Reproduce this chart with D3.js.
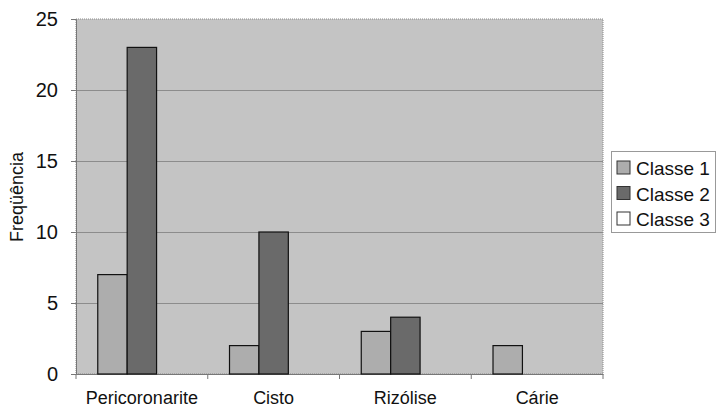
<!DOCTYPE html>
<html><head><meta charset="utf-8">
<script src="https://cdn.jsdelivr.net/npm/d3@7"></script>
<style>body{margin:0;background:#fff}svg{display:block}text{font-family:"Liberation Sans",Arial,sans-serif;fill:#111}</style>
</head><body><svg id="c" width="716" height="408"></svg>
<script>
const categories = ["Pericoronarite","Cisto","Rizólise","Cárie"];
const seriesNames = ["Classe 1","Classe 2","Classe 3"];
const classe1 = [7,2,3,2];
const classe2 = [23,10,4,0];
const classe3 = [0,0,0,0];
const yTicks = [0,5,10,15,20,25];
const colors = ["#adadad","#6a6a6a","#ffffff"];
const series = [classe1, classe2, classe3];

const svg = d3.select("#c");
const m = {l:76, r:603, t:19, b:374};
const x = d3.scaleBand().domain(categories).range([m.l, m.r]);
const xi = d3.scaleBand().domain(seriesNames).range([0, x.bandwidth()]).paddingOuter(0.74).paddingInner(0);
const y = d3.scaleLinear().domain([0,25]).range([m.b, m.t]);

svg.append("rect").attr("x",m.l).attr("y",m.t).attr("width",m.r-m.l).attr("height",m.b-m.t)
  .attr("fill","#c4c4c4").attr("stroke","#8a8a8a").attr("stroke-width",1).attr("stroke-dasharray","1,1");

svg.append("g").selectAll("line").data(yTicks.filter(d=>d>0&&d<25)).join("line")
  .attr("x1",m.l).attr("x2",m.r).attr("y1",d=>y(d)+0.5).attr("y2",d=>y(d)+0.5)
  .attr("stroke","#8c8c8c").attr("stroke-width",1);

const yAxis = svg.append("g").attr("transform",`translate(${m.l},0)`)
  .call(d3.axisLeft(y).tickValues(yTicks).tickSize(5).tickPadding(13));
yAxis.select(".domain").attr("stroke","#777");
yAxis.selectAll(".tick line").attr("stroke","#777");
yAxis.selectAll("text").style("font-size","20px").attr("fill","#111");

const xAxis = svg.append("g").attr("transform",`translate(0,${m.b})`)
  .call(d3.axisBottom(x).tickSize(0).tickPadding(17));
xAxis.select(".domain").attr("stroke","#777");
xAxis.selectAll("text").style("font-size","18px").attr("fill","#111");
svg.append("g").selectAll("line").data(d3.range(categories.length+1)).join("line")
  .attr("x1",i=>m.l+i*x.step()).attr("x2",i=>m.l+i*x.step())
  .attr("y1",m.b).attr("y2",m.b+5).attr("stroke","#777");

series.forEach((s,si)=>{
  svg.append("g").selectAll("rect").data(s.map((v,i)=>({v,c:categories[i]})).filter(d=>d.v>0)).join("rect")
    .attr("x",d=>x(d.c)+xi(seriesNames[si]))
    .attr("y",d=>y(d.v)).attr("width",xi.bandwidth()).attr("height",d=>y(0)-y(d.v))
    .attr("fill",colors[si]).attr("stroke","#111").attr("stroke-width",1.2);
});

svg.append("text").attr("transform","translate(23,197) rotate(-90)").attr("text-anchor","middle")
  .style("font-size","18px").text("Freqüência");

const lg = svg.append("g");
lg.append("rect").attr("x",611.5).attr("y",151.5).attr("width",104).attr("height",81)
  .attr("fill","#fff").attr("stroke","#999").attr("stroke-width",1);
seriesNames.forEach((n,i)=>{
  const yy = 161 + i*25.5;
  lg.append("rect").attr("x",617).attr("y",yy).attr("width",13).attr("height",13)
    .attr("fill",colors[i]).attr("stroke","#333");
  lg.append("text").attr("x",636).attr("y",yy+14).style("font-size","19px").text(n);
});
</script></body></html>
